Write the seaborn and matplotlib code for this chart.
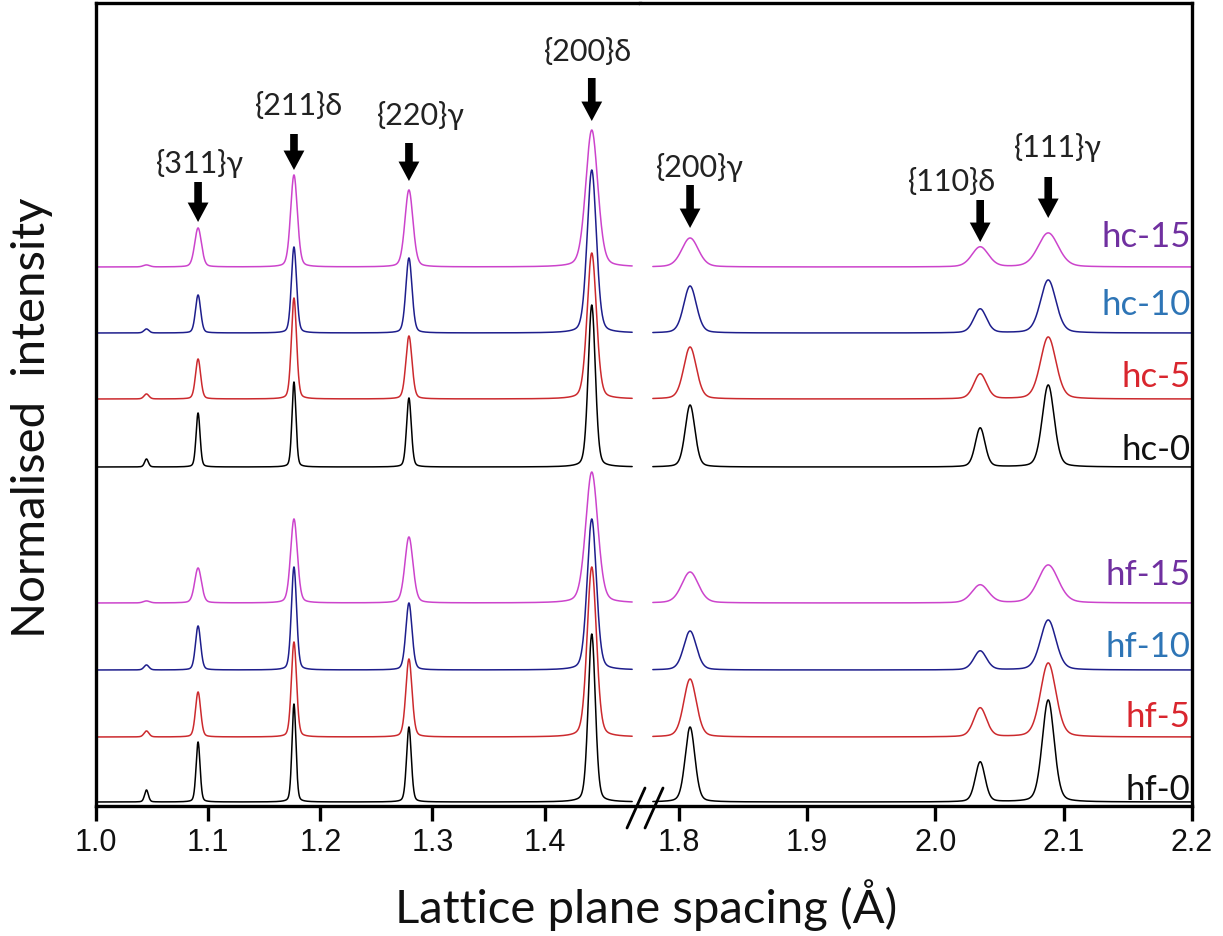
import numpy as np
import pandas as pd
import matplotlib
matplotlib.use("Agg")
import matplotlib.pyplot as plt
import seaborn as sns

# ---------------- data ----------------
samples = ["hc-15", "hc-10", "hc-5", "hc-0", "hf-15", "hf-10", "hf-5", "hf-0"]
offsets = [539, 473, 407, 339, 203, 136, 69, 4]          # vertical stacking offsets
peak_names = ["", "{311}γ", "{211}δ", "{220}γ", "{200}δ", "{200}γ", "{110}δ", "{111}γ"]
peak_pos = [1.045, 1.091, 1.1765, 1.279, 1.442, 1.809, 2.035, 2.088]
peak_fwhm = [0.004, 0.0042, 0.0042, 0.005, 0.0075, 0.009, 0.009, 0.011]
broadening = [1.7, 1.3, 1.3, 1.0, 1.7, 1.3, 1.3, 1.0]
heights = {
    "hc-15": [2, 39, 92, 77, 137, 29, 20, 34],
    "hc-10": [4, 38, 86, 75, 163, 47, 24, 53],
    "hc-5":  [5, 40, 101, 63, 146, 52, 25, 62],
    "hc-0":  [8, 54, 85, 69, 162, 62, 39, 82],
    "hf-15": [2, 35, 84, 66, 131, 31, 18, 38],
    "hf-10": [5, 44, 103, 67, 151, 39, 19, 50],
    "hf-5":  [6, 45, 95, 78, 170, 58, 29, 74],
    "hf-0":  [12, 60, 98, 75, 168, 75, 40, 102],
}
x_left_ticks = [1.0, 1.1, 1.2, 1.3, 1.4]
x_right_ticks = [1.8, 1.9, 2.0, 2.1, 2.2]

line_colors = ["#CC44CC", "#1E1E8C", "#CC2A2E", "#000000"] * 2
label_colors = ["#7030A0", "#2E75B6", "#D9262E", "#111111"] * 2

# ---------------- style ----------------
sns.set_theme(style="white")
plt.rcParams["font.family"] = ["Lato", "DejaVu Sans"]

fig = plt.figure(figsize=(12.23, 9.36), dpi=100)
W, H = 1223, 936
x0, xm, x1 = 96, 640, 1192
ytop, ybot = 3, 806
ax1 = fig.add_axes([x0 / W, 1 - ybot / H, (xm - x0) / W, (ybot - ytop) / H])
ax2 = fig.add_axes([xm / W, 1 - ybot / H, (x1 - xm) / W, (ybot - ytop) / H])


def profile(x, heights_row, factor):
    y = np.zeros_like(x)
    for c, h, w in zip(peak_pos, heights_row, peak_fwhm):
        w = w * factor
        g = np.exp(-4 * np.log(2) * ((x - c) / w) ** 2)
        lz = 1.0 / (1 + 4 * ((x - c) / w) ** 2)
        y += h * (0.75 * g + 0.25 * lz)
    return y


xl = np.linspace(1.0, 1.478, 3000)
xr = np.linspace(1.780, 2.2, 3000)
frames_l, frames_r = [], []
for s, off, f in zip(samples, offsets, broadening):
    frames_l.append(pd.DataFrame({"d": xl, "I": profile(xl, heights[s], f) + off, "sample": s}))
    frames_r.append(pd.DataFrame({"d": xr, "I": profile(xr, heights[s], f) + off, "sample": s}))
df_l = pd.concat(frames_l, ignore_index=True)
df_r = pd.concat(frames_r, ignore_index=True)
pal = dict(zip(samples, line_colors))

for ax, df in ((ax1, df_l), (ax2, df_r)):
    sns.lineplot(data=df, x="d", y="I", hue="sample", hue_order=samples, palette=pal,
                 estimator=None, sort=False, legend=False, lw=1.1, ax=ax)
    ax.set_ylim(0, 803)
    ax.set_yticks([])
    ax.set_xlabel("")
    ax.set_ylabel("")
    for sp in ax.spines.values():
        sp.set_linewidth(2.4)
        sp.set_color("black")
    ax.tick_params(axis="x", direction="out", length=11, width=2.4, color="black",
                   bottom=True, top=False, labelsize=22, pad=5)

ax1.set_xlim(1.0, 1.485)
ax2.set_xlim(1.77, 2.2)
ax1.set_xticks(x_left_ticks)
ax2.set_xticks(x_right_ticks)
ax1.set_xticklabels([f"{v:.1f}" for v in x_left_ticks])
ax2.set_xticklabels([f"{v:.1f}" for v in x_right_ticks])
for ax in (ax1, ax2):
    for lab in ax.get_xticklabels():
        lab.set_family(["Liberation Sans", "DejaVu Sans"])
        lab.set_fontsize(22)
        lab.set_color("#111111")
ax1.spines["right"].set_visible(False)
ax2.spines["left"].set_visible(False)

# break marks
for cx in (636, 654):
    xa = cx / W
    ya = 1 - 808 / H
    fig.add_artist(plt.Line2D([xa - 9 / W, xa + 9 / W], [ya - 20 / H, ya + 20 / H],
                              color="black", lw=2.0))

# sample labels
label_baseline_px = [247, 315, 387, 460, 585, 657, 727, 800]
for s, c, b in zip(samples, label_colors, label_baseline_px):
    ax2.text(2.199, 806 - b, s, color=c, fontsize=25, ha="right", va="baseline")

# peak arrows + labels
arrows = [  # (axis, peak index, tail, tip, label x, label y)
    (ax1, 1, 624, 584, 1.0927, 643),
    (ax1, 2, 672, 636, 1.1809, 700),
    (ax1, 3, 663, 625, 1.2897, 691),
    (ax1, 4, 728, 685, 1.4385, 754),
    (ax2, 5, 621, 578, 1.8168, 638),
    (ax2, 6, 606, 564, 2.0132, 624),
    (ax2, 7, 629, 588, 2.0958, 659),
]
for ax, i, tail, tip, lx, ly in arrows:
    ax.annotate("", xy=(peak_pos[i], tip), xytext=(peak_pos[i], tail),
                arrowprops=dict(facecolor="black", edgecolor="none", width=5.5,
                                headwidth=15, headlength=14, shrink=0))
    ax.text(lx, ly, peak_names[i], fontsize=22, ha="center", va="center", color="#222222")

fig.text(646 / W, 1 - 905 / H, "Lattice plane spacing (Å)", fontsize=34,
         ha="center", va="center", color="#111111")
fig.text(32 / W, 1 - 418 / H, "Normalised  intensity", fontsize=34, rotation=90,
         ha="center", va="center", color="#111111")

fig.savefig("out.png", dpi=100)
